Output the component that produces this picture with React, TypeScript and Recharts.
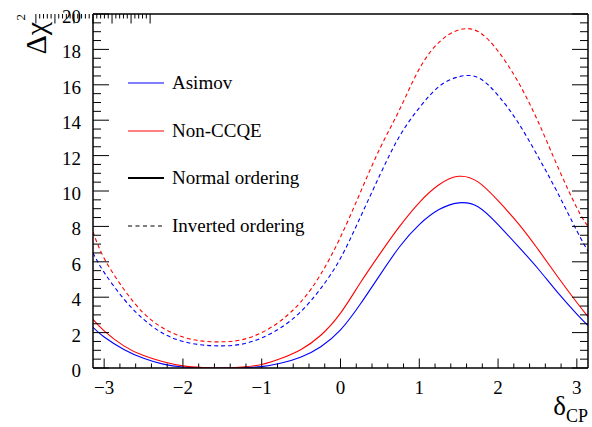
import { LineChart, Line, XAxis, YAxis } from 'recharts';

// delta_CP sampling points (radians)
const deltaCP = [
  -3.1416, -3.0, -2.75, -2.5, -2.25, -2.0, -1.75, -1.5, -1.25, -1.0, -0.75, -0.5, -0.25, 0,
  0.25, 0.5, 0.75, 1.0, 1.25, 1.5, 1.75, 2.0, 2.25, 2.5, 2.75, 3.0, 3.1416,
];

// normal ordering (solid)
const asimovNO = [
  2.3, 1.75, 1.05, 0.55, 0.22, 0.06, 0.01, 0.0, 0.02, 0.08, 0.28, 0.62, 1.2, 2.15,
  3.6, 5.25, 6.85, 8.1, 8.95, 9.33, 9.1, 8.1, 6.9, 5.65, 4.3, 3.05, 2.4,
];
const nonCcqeNO = [
  2.75, 2.1, 1.25, 0.7, 0.35, 0.12, 0.03, 0.0, 0.05, 0.2, 0.55, 1.05, 1.85, 3.1,
  4.8, 6.45, 8.0, 9.35, 10.35, 10.83, 10.5, 9.45, 8.2, 6.75, 5.2, 3.7, 2.9,
];

// inverted ordering (dashed)
const asimovIO = [
  6.5, 5.4, 3.9, 2.75, 1.95, 1.5, 1.3, 1.25, 1.35, 1.7, 2.3, 3.2, 4.5, 6.2,
  8.5, 10.9, 13.1, 14.7, 15.9, 16.45, 16.4, 15.4, 13.9, 12.0, 9.95, 7.75, 6.6,
];
const nonCcqeIO = [
  7.7, 6.2, 4.45, 3.1, 2.25, 1.75, 1.52, 1.48, 1.6, 2.0, 2.7, 3.75, 5.3, 7.4,
  9.9, 12.4, 14.6, 16.9, 18.4, 19.1, 19.0, 17.9, 16.2, 14.0, 11.45, 9.05, 8.0,
];

const xMajorTicks = [-3, -2, -1, 0, 1, 2, 3];
const yMajorTicks = [0, 2, 4, 6, 8, 10, 12, 14, 16, 18, 20];

// minor ticks every 0.2 in x, 0.5 in y
const xTicks = Array.from({ length: 31 }, (_, i) => +(-3 + i * 0.2).toFixed(1));
const yTicks = Array.from({ length: 41 }, (_, i) => i * 0.5);

const rows = deltaCP.map((d, i) => ({
  d,
  asimovNO: asimovNO[i],
  nonCcqeNO: nonCcqeNO[i],
  asimovIO: asimovIO[i],
  nonCcqeIO: nonCcqeIO[i],
}));

const FONT = '"Liberation Serif", "DejaVu Serif", serif';
const BLUE = '#0000ff';
const RED = '#ff0000';

const isXMajor = (v: number) => xMajorTicks.some((t) => Math.abs(t - v) < 1e-6);
const isYMajor = (v: number) => yMajorTicks.some((t) => Math.abs(t - v) < 1e-6);

const fmt = (v: number) => (v < 0 ? `\u2212${-v}` : `${v}`);

const BottomTick = ({ x, y, payload }: any) => {
  const major = isXMajor(payload.value);
  return (
    <g>
      <line x1={x} x2={x} y1={y} y2={y - (major ? 9.5 : 4.5)} stroke="#000" strokeWidth={1} />
      {major && (
        <text x={x} y={y + 25.5} textAnchor="middle" fontSize={19} style={{ fontFamily: FONT }} fill="#000">
          {fmt(payload.value)}
        </text>
      )}
    </g>
  );
};

const TopTick = ({ x, y, payload }: any) => {
  const major = isXMajor(payload.value);
  return <line x1={x} x2={x} y1={y} y2={y + (major ? 9.5 : 4.5)} stroke="#000" strokeWidth={1} />;
};

const LeftTick = ({ x, y, payload }: any) => {
  const major = isYMajor(payload.value);
  return (
    <g>
      <line x1={x} x2={x + (major ? 16 : 8)} y1={y} y2={y} stroke="#000" strokeWidth={1} />
      {major && (
        <text x={x - 12} y={y + 9} textAnchor="end" fontSize={19} style={{ fontFamily: FONT }} fill="#000">
          {payload.value}
        </text>
      )}
    </g>
  );
};

const RightTick = ({ x, y, payload }: any) => {
  const major = isYMajor(payload.value);
  return <line x1={x} x2={x - (major ? 16 : 8)} y1={y} y2={y} stroke="#000" strokeWidth={1} />;
};

const legendItems = [
  { label: 'Asimov', color: BLUE, width: 1, dash: undefined as string | undefined },
  { label: 'Non-CCQE', color: RED, width: 1, dash: undefined },
  { label: 'Normal ordering', color: '#000', width: 2, dash: undefined },
  { label: 'Inverted ordering', color: '#000', width: 1.2, dash: '4 3.5' },
];
const legendRowY = [83.3, 130.7, 178.3, 225.7];

function LegendBox() {
  return (
    <>
      {legendItems.map((item, i) => (
        <div
          key={item.label}
          style={{
            position: 'absolute',
            left: 128,
            top: legendRowY[i] - 12,
            height: 24,
            display: 'flex',
            alignItems: 'center',
            whiteSpace: 'nowrap',
            fontFamily: FONT,
            fontSize: 19,
            color: '#000',
          }}
        >
          <svg width={36} height={6} style={{ marginRight: 8 }}>
            <line x1={0} x2={36} y1={3} y2={3} stroke={item.color} strokeWidth={item.width} strokeDasharray={item.dash} />
          </svg>
          <span>{item.label}</span>
        </div>
      ))}
    </>
  );
}

const YTitle = () => (
  <g style={{ fontFamily: FONT }} fill="#000">
    <text transform="translate(46, 22) rotate(-90)" textAnchor="end" fontSize={30}>
      Δχ
    </text>
    <text transform="translate(25, 14) rotate(-90)" textAnchor="end" fontSize={13}>
      2
    </text>
  </g>
);

const XTitle = () => (
  <text x={588} y={415} textAnchor="end" fontSize={27} style={{ fontFamily: FONT }} fill="#000">
    δ<tspan fontSize={18} dy={7}>CP</tspan>
  </text>
);

export default function App() {
  return (
    <div style={{ position: 'absolute', left: 0, top: 0, width: 592, height: 427, background: '#fff' }}>
      <LineChart width={592} height={427} data={rows} margin={{ top: 13, right: 3, bottom: 58, left: 92 }}>
        <XAxis
          dataKey="d"
          type="number"
          domain={[-Math.PI, Math.PI]}
          ticks={xTicks}
          interval={0}
          height={1}
          tickSize={0}
          tickMargin={0}
          tickLine={false}
          tick={<BottomTick />}
          axisLine={{ stroke: '#000', strokeWidth: 1.5 }}
          allowDataOverflow
          label={{ content: () => <XTitle /> }}
        />
        <XAxis
          xAxisId="top"
          orientation="top"
          type="number"
          domain={[-Math.PI, Math.PI]}
          ticks={xTicks}
          interval={0}
          height={1}
          tickSize={0}
          tickMargin={0}
          tickLine={false}
          tick={<TopTick />}
          axisLine={{ stroke: '#000', strokeWidth: 1.5 }}
          allowDataOverflow
        />
        <YAxis
          type="number"
          domain={[0, 20]}
          ticks={yTicks}
          interval={0}
          width={1}
          tickSize={0}
          tickMargin={0}
          tickLine={false}
          tick={<LeftTick />}
          axisLine={{ stroke: '#000', strokeWidth: 1.5 }}
          allowDataOverflow
          label={{ content: () => <YTitle /> }}
        />
        <YAxis
          yAxisId="right"
          orientation="right"
          type="number"
          domain={[0, 20]}
          ticks={yTicks}
          interval={0}
          width={1}
          tickSize={0}
          tickMargin={0}
          tickLine={false}
          tick={<RightTick />}
          axisLine={{ stroke: '#000', strokeWidth: 1.5 }}
          allowDataOverflow
        />
        <Line dataKey="asimovNO" type="natural" stroke={BLUE} strokeWidth={1.1} dot={false} activeDot={false} isAnimationActive={false} />
        <Line dataKey="nonCcqeNO" type="natural" stroke={RED} strokeWidth={1.1} dot={false} activeDot={false} isAnimationActive={false} />
        <Line dataKey="asimovIO" type="natural" stroke={BLUE} strokeWidth={1.1} strokeDasharray="4 3" dot={false} activeDot={false} isAnimationActive={false} />
        <Line dataKey="nonCcqeIO" type="natural" stroke={RED} strokeWidth={1.1} strokeDasharray="4 3" dot={false} activeDot={false} isAnimationActive={false} />
      </LineChart>
      <LegendBox />
    </div>
  );
}
